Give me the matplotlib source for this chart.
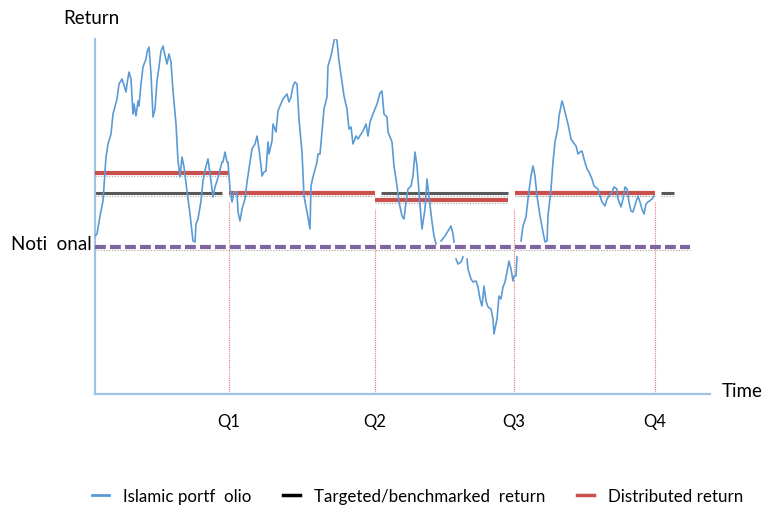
import matplotlib
matplotlib.use("Agg")
import numpy as np
import matplotlib.pyplot as plt
from matplotlib.lines import Line2D

# time axis in arbitrary units, return measured relative to the notional level
quarter_pos = [134, 280, 419, 560]
quarter_labels = ["Q1", "Q2", "Q3", "Q4"]

portfolio_t = [0, 2, 5, 8, 11, 13, 16, 18, 22, 24, 27, 28, 31, 32, 34, 36, 38, 39, 41, 43,
               44, 46, 48, 51, 52, 54, 56, 58, 60, 62, 64, 66, 68, 69, 72, 74, 76, 78, 81, 83,
               85, 87, 89, 92, 95, 98, 100, 101, 103, 106, 108, 111, 113, 116, 118, 120, 122, 124, 127, 128,
               130, 132, 133, 135, 137, 139, 142, 143, 145, 147, 150, 152, 155, 157, 160, 162, 164, 166, 167, 169,
               171, 173, 174, 177, 178, 181, 183, 185, 188, 192, 194, 196, 198, 200, 202, 204, 207, 209, 212, 215,
               216, 218, 222, 223, 225, 227, 229, 232, 233, 236, 238, 240, 242, 244, 247, 249, 252, 254, 256, 258,
               261, 263, 266, 268, 271, 273, 275, 278, 282, 285, 287, 289, 292, 293, 297, 299, 302, 304, 307, 309,
               311, 313, 316, 318, 320, 322, 324, 327, 330, 332, 334, 337, 339, 341, 343,
               346, 350, 353, 356, 358, 359, 360,
               361, 363, 366, 368, 370,
               372, 373, 376, 378, 381, 383, 385, 387, 389, 391, 393, 396, 398, 399, 402, 404, 406, 408, 410, 412,
               414, 416, 418, 419, 421, 422, 424,
               426, 428, 431, 433, 436, 438, 440, 442, 445, 448, 450, 452, 453, 456, 458, 460, 463, 464, 467, 468,
               471, 473, 476, 478, 481, 483, 485, 487, 489, 492, 494, 497, 499, 503, 505, 507, 510, 512, 514, 517,
               519, 522, 523, 526, 528, 530, 532, 534, 536, 538, 541, 543, 545, 547, 549, 551, 553, 557, 559]
portfolio_r = [11, 13, 31, 46, 90, 103, 113, 133, 148, 163, 168, 165, 155, 163, 175, 168, 133, 143, 131, 146,
               141, 163, 180, 188, 195, 200, 173, 130, 138, 166, 180, 196, 201, 196, 183, 193, 185, 156, 123, 86,
               70, 90, 80, 56, 33, 6, 5, 23, 28, 46, 66, 81, 88, 66, 50, 60, 66, 73, 85, 85,
               95, 85, 85, 58, 45, 55, 55, 35, 26, 38, 48, 65, 85, 98, 103, 111, 98, 81, 71, 75,
               76, 105, 93, 106, 123, 115, 136, 141, 148, 153, 145, 150, 161, 165, 163, 128, 95, 51, 35, 18,
               61, 70, 85, 93, 93, 116, 138, 150, 181, 191, 201, 211, 206, 186, 165, 151, 138, 118, 120, 103,
               111, 108, 113, 116, 123, 111, 125, 133, 143, 154, 156, 133, 130, 115, 105, 81, 61, 45, 31, 28,
               45, 58, 61, 71, 95, 81, 55, 18, 38, 68, 51, 25, 11, 3, np.nan,
               6, 11, 16, 21, 13, 5, np.nan,
               -12, -17, -15, -10, np.nan,
               -12, -22, -32, -35, -34, -40, -52, -59, -39, -54, -60, -62, -72, -87, -72, -49, -52, -40, -35, -25,
               -14, -22, -34, -29, -29, -10, np.nan,
               6, 21, 30, 48, 71, 81, 71, 51, 31, 15, 5, 6, 31, 58, 85, 105, 120, 131, 146, 143,
               131, 123, 108, 105, 101, 93, 95, 96, 88, 78, 75, 68, 61, 58, 51, 45, 41, 48, 51, 55,
               60, 58, 48, 40, 48, 60, 58, 45, 36, 35, 45, 51, 45, 38, 33, 43, 45, 48, 51]

# distributed return per quarter: start, end, level
dist_start = [0, 134, 280, 420]
dist_end = [134, 280, 413, 560]
dist_level = [74, 54, 47, 54]

# targeted / benchmarked return segments
target_start = [0, 134, 286, 425, 566]
target_end = [127, 274, 413, 553, 579]
target_level = [54, 54, 54, 54, 54]

notional_level = 0
notional_end = 595
vline_top = [45, 38, 38, 45]

c_blue = "#5b9bd5"
c_red = "#c9504d"
c_black = "#595959"
c_purple = "#8064a2"
c_axis = "#9dc3e6"
c_dots = "#a6a6a6"

plt.rcParams["font.family"] = ["Lato", "DejaVu Sans"]

fig = plt.figure(figsize=(7.65, 5.06), dpi=100)
ax = fig.add_axes([95 / 765, 111 / 506, 615 / 765, 355 / 506])
ax.set_xlim(0, 615)
ax.set_ylim(-147, 208)

# faint dotted rulings beneath the levels
for s, e, lv in zip(dist_start, dist_end, dist_level):
    ax.plot([s, e], [lv - 3, lv - 3], color=c_dots, lw=0.8, ls=(0, (1, 1.5)), zorder=1)
for s, e, lv in zip(target_start, target_end, target_level):
    ax.plot([s, e], [lv - 3, lv - 3], color=c_dots, lw=0.8, ls=(0, (1, 1.5)), zorder=1)
ax.plot([0, notional_end], [notional_level - 3] * 2, color=c_dots, lw=0.8, ls=(0, (1, 1.5)), zorder=1)

for s, e, lv in zip(target_start, target_end, target_level):
    ax.plot([s, e], [lv, lv], color=c_black, lw=2.2, solid_capstyle="butt", zorder=2)
for s, e, lv in zip(dist_start, dist_end, dist_level):
    ax.plot([s, e], [lv, lv], color=c_red, lw=3, solid_capstyle="butt", zorder=3)

for q, top in zip(quarter_pos, vline_top):
    ax.plot([q, q], [-147, top], color="#e57373", lw=0.8, ls=(0, (1, 1)), zorder=2)

ax.plot([0, notional_end], [notional_level] * 2, color=c_purple, lw=3,
        ls=(0, (2.6, 1.0)), zorder=4)

ax.plot(portfolio_t, portfolio_r, color=c_blue, lw=1.2, zorder=5)

for side in ["top", "right"]:
    ax.spines[side].set_visible(False)
for side in ["left", "bottom"]:
    ax.spines[side].set_color(c_axis)
    ax.spines[side].set_linewidth(1.6)
ax.set_xticks(quarter_pos)
ax.set_xticklabels(quarter_labels, fontsize=12)
ax.tick_params(axis="x", length=0, pad=14)
ax.set_yticks([])

fig.text(63 / 765, 1 - 18 / 506, "Return", fontsize=13.5, va="center", ha="left")
fig.text(722 / 765, 1 - 392 / 506, "Time", fontsize=13.5, va="center", ha="left")
fig.text(92 / 765, 1 - 245 / 506, "Noti  onal", fontsize=13.5, va="center", ha="right")

handles = [Line2D([], [], color=c_blue, lw=2),
           Line2D([], [], color="black", lw=2.5),
           Line2D([], [], color=c_red, lw=2.5)]
labels = ["Islamic portf  olio", "Targeted/benchmarked  return", "Distributed return"]
fig.legend(handles, labels, loc="center", bbox_to_anchor=(0.546, 1 - 497 / 506), ncol=3,
           frameon=False, fontsize=12.2, handlelength=1.0, handletextpad=0.8, columnspacing=1.9)

fig.savefig("out.png", dpi=100)
